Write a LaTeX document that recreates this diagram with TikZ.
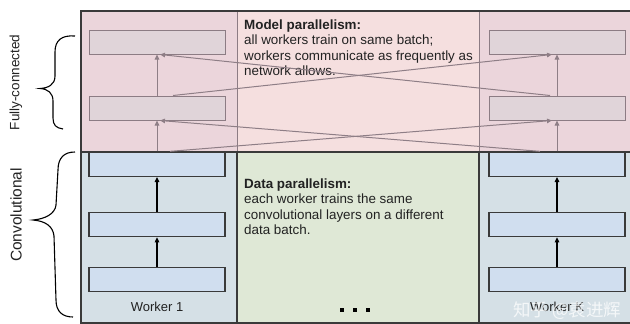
\documentclass[tikz,border=0pt]{standalone}
\usepackage{fontspec}
\setmainfont{Liberation Sans}
\newfontfamily\cjk{Noto Sans CJK SC}
\usetikzlibrary{arrows.meta}
\definecolor{pinkmid}{HTML}{F5DFDF}
\definecolor{pinkcol}{HTML}{EBD5DB}
\definecolor{fcfill}{HTML}{E0D4D9}
\definecolor{fcdraw}{HTML}{8C7C84}
\definecolor{fcline}{HTML}{8E7E86}
\definecolor{bluecol}{HTML}{D5E0E6}
\definecolor{greenmid}{HTML}{DFE8D6}
\definecolor{convfill}{HTML}{D0DEEF}
\definecolor{convdraw}{HTML}{3A3A3A}
\definecolor{txt}{HTML}{222222}
\begin{document}
\begin{tikzpicture}[x=1pt,y=-1pt,
  fcbox/.style={draw=fcdraw,fill=fcfill,line width=1pt,minimum width=136pt,minimum height=24pt,inner sep=0pt},
  convbox/.style={draw=convdraw,fill=convfill,line width=1.2pt,minimum width=136pt,minimum height=24.5pt,inner sep=0pt},
  fcarrow/.style={draw=fcline,line width=1pt,-{Triangle[length=5pt,width=4.5pt]}},
  convarrow/.style={draw=black,line width=1.1pt,-{Triangle[length=5pt,width=4.5pt]}},
  brace/.style={draw=black,line width=1.1pt},
  desc/.style={anchor=north west,inner sep=0pt,align=left,text=txt,font=\fontsize{13.4}{15.5}\selectfont},
  wlabel/.style={anchor=base,inner sep=0pt,text=txt,font=\fontsize{13}{15}\selectfont},
  dotsq/.style={fill=black,minimum size=4pt,inner sep=0pt}
]
\useasboundingbox (0,0) rectangle (630,324);
% backgrounds
\fill[pinkcol] (81,11) rectangle (237,152);
\fill[pinkmid] (237,11) rectangle (479,152);
\fill[pinkcol] (479,11) rectangle (632,152);
\fill[bluecol] (81,152) rectangle (237,323);
\fill[greenmid] (237,152) rectangle (479,323);
\fill[bluecol] (479,152) rectangle (632,323);
% separators
\draw[draw=fcdraw,line width=1pt] (237,11) -- (237,152) (479,11) -- (479,152);
\draw[draw=convdraw,line width=1.2pt] (237,152) -- (237,323) (479,152) -- (479,323);
\draw[draw=convdraw,line width=1.3pt] (81,152) -- (632,152);
% texts
\node[desc] (mtxt) at (244,19.5) {\textbf{Model parallelism:}\\all workers train on same batch;\\workers communicate as frequently as\\network allows.};
\node[desc] (dtxt) at (244,178.3) {\textbf{Data parallelism:}\\each worker trains the same\\convolutional layers on a different\\data batch.};
% worker 1 boxes
\node[fcbox] (w1fc2) at (157,42) {};
\node[fcbox] (w1fc1) at (157,108) {};
\node[convbox] (w1c3) at (157,164.2) {};
\node[convbox] (w1c2) at (157,224.5) {};
\node[convbox] (w1c1) at (157,279.5) {};
% worker K boxes
\node[fcbox] (wkfc2) at (557,42) {};
\node[fcbox] (wkfc1) at (557,108) {};
\node[convbox] (wkc3) at (557,164.2) {};
\node[convbox] (wkc2) at (557,224.5) {};
\node[convbox] (wkc1) at (557,279.5) {};
% vertical arrows
\draw[fcarrow] (w1fc1.north) -- (w1fc2.south);
\draw[fcarrow] (w1c3.north) -- (w1fc1.south);
\draw[fcarrow] (wkfc1.north) -- (wkfc2.south);
\draw[fcarrow] (wkc3.north) -- (wkfc1.south);
\draw[convarrow] (w1c2.north) -- (w1c3.south);
\draw[convarrow] (w1c1.north) -- (w1c2.south);
\draw[convarrow] (wkc2.north) -- (wkc3.south);
\draw[convarrow] (wkc1.north) -- (wkc2.south);
% cross arrows
\draw[fcarrow] ([xshift=16pt]w1fc1.north) -- ([xshift=-5pt]wkfc2.south);
\draw[fcarrow] ([xshift=-7pt]wkfc1.north) -- ([xshift=3pt]w1fc2.south);
\draw[fcarrow] ([xshift=13pt]w1c3.north) -- ([xshift=-5pt]wkfc1.south);
\draw[fcarrow] ([xshift=-17pt]wkc3.north) -- ([xshift=3pt]w1fc1.south);
% labels
\node[wlabel] (w1lab) at (157,311) {Worker 1};
\node[wlabel] (wklab) at (557,311) {Worker K};
\node[dotsq] (d1) at (342,310) {};
\node[dotsq] (d2) at (355,310) {};
\node[dotsq] (d3) at (368,310) {};
% side labels and braces
\node[rotate=90,inner sep=0pt,text=txt,font=\fontsize{13.5}{15}\selectfont] (fclab) at (16,82.5) {Fully-connected};
\node[rotate=90,inner sep=0pt,text=txt,font=\fontsize{15.5}{17}\selectfont] (cvlab) at (16,215) {Convolutional};
\draw[brace] (75,36) .. controls (62,35) and (55,40) .. (55,52) -- (55,76) .. controls (55,85) and (48,88) .. (40,88.5) .. controls (48,89) and (53,93) .. (53,101) -- (53,118) .. controls (53,125) and (56,128) .. (63,129);
\draw[brace] (75,152) .. controls (64,152) and (58,158) .. (58,170) -- (56,205) .. controls (55,214) and (45,219) .. (33,220) .. controls (45,221) and (53,226) .. (54,236) -- (56,300) .. controls (56,312) and (63,317) .. (73,317);
% frame
\draw[draw=convdraw,line width=1.4pt] (81,11) rectangle (634,323);
% watermark
\node[anchor=base west,inner sep=0pt,text=white,opacity=0.75,font=\cjk\fontsize{17.5}{18}\selectfont] (wm) at (513,316) {知乎 @袁进辉};
\end{tikzpicture}
\end{document}
